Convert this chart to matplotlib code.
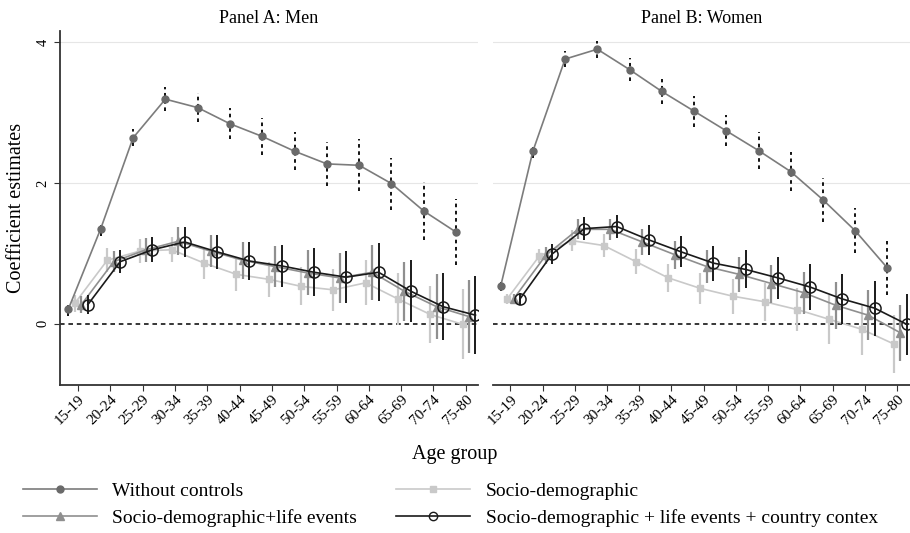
import numpy as np
import matplotlib
matplotlib.use("Agg")
import matplotlib.pyplot as plt
from matplotlib.lines import Line2D

plt.rcParams['font.family'] = ['Liberation Serif', 'DejaVu Serif']

age_groups = ['15-19', '20-24', '25-29', '30-34', '35-39', '40-44', '45-49',
              '50-54', '55-59', '60-64', '65-69', '70-74', '75-80']

# Panel A: Men
men_none = [0.21, 1.35, 2.64, 3.19, 3.07, 2.84, 2.66, 2.45, 2.27, 2.25, 1.99, 1.60, 1.30]
men_none_ci = [0.10, 0.10, 0.12, 0.17, 0.21, 0.22, 0.26, 0.27, 0.31, 0.37, 0.37, 0.41, 0.47]
men_socio = [0.29, 0.90, 1.03, 1.05, 0.86, 0.70, 0.63, 0.53, 0.48, 0.58, 0.35, 0.13, -0.01]
men_socio_ci = [0.12, 0.17, 0.17, 0.18, 0.22, 0.24, 0.25, 0.27, 0.30, 0.32, 0.37, 0.40, 0.50]
men_life = [0.27, 0.88, 1.05, 1.17, 1.03, 0.90, 0.81, 0.72, 0.65, 0.73, 0.46, 0.24, 0.10]
men_life_ci = [0.12, 0.15, 0.17, 0.20, 0.23, 0.26, 0.29, 0.32, 0.35, 0.39, 0.42, 0.46, 0.52]
men_ctry = [0.27, 0.88, 1.05, 1.16, 1.02, 0.89, 0.82, 0.73, 0.66, 0.73, 0.46, 0.24, 0.12]
men_ctry_ci = [0.13, 0.16, 0.18, 0.21, 0.24, 0.27, 0.30, 0.34, 0.37, 0.41, 0.44, 0.48, 0.55]

# Panel B: Women
wom_none = [0.53, 2.45, 3.76, 3.90, 3.61, 3.30, 3.02, 2.74, 2.46, 2.16, 1.76, 1.32, 0.79]
wom_none_ci = [0.06, 0.10, 0.11, 0.12, 0.16, 0.18, 0.22, 0.22, 0.26, 0.28, 0.31, 0.32, 0.38]
wom_socio = [0.35, 0.96, 1.18, 1.11, 0.88, 0.65, 0.50, 0.39, 0.31, 0.20, 0.06, -0.08, -0.29]
wom_socio_ci = [0.07, 0.10, 0.15, 0.16, 0.18, 0.20, 0.22, 0.25, 0.27, 0.30, 0.35, 0.36, 0.41]
wom_life = [0.35, 0.97, 1.34, 1.34, 1.16, 0.98, 0.81, 0.70, 0.57, 0.44, 0.26, 0.12, -0.13]
wom_life_ci = [0.07, 0.12, 0.14, 0.15, 0.19, 0.20, 0.23, 0.25, 0.27, 0.30, 0.33, 0.36, 0.40]
wom_ctry = [0.35, 0.99, 1.35, 1.38, 1.19, 1.02, 0.86, 0.77, 0.65, 0.52, 0.35, 0.22, -0.01]
wom_ctry_ci = [0.08, 0.14, 0.16, 0.17, 0.21, 0.22, 0.25, 0.27, 0.30, 0.33, 0.36, 0.39, 0.43]

labels = ['Without controls', 'Socio-demographic', 'Socio-demographic+life events',
          'Socio-demographic + life events + country contex']

c_none = '#6a6a6a'
c_socio = '#c9c9c9'
c_life = '#8f8f8f'
c_ctry = '#1a1a1a'


def draw_panel(ax, none, none_ci, socio, socio_ci, life, life_ci, ctry, ctry_ci):
    x = np.arange(len(age_groups))
    ax.axhline(0, color='black', lw=1.1, ls=(0, (3, 2.5)), zorder=1)
    for yv in [2, 4]:
        ax.axhline(yv, color='#e6e6e6', lw=0.8, zorder=0)

    # socio-demographic
    xs = x - 0.1
    ax.vlines(xs, np.array(socio) - socio_ci, np.array(socio) + socio_ci, color=c_socio, lw=1.6, zorder=2)
    ax.plot(xs, socio, color=c_socio, lw=1.2, marker='s', ms=5, zorder=3)
    # life events
    xl = x + 0.1
    ax.vlines(xl, np.array(life) - life_ci, np.array(life) + life_ci, color=c_life, lw=1.6, zorder=4)
    ax.plot(xl, life, color=c_life, lw=1.2, marker='^', ms=5.5, zorder=5)
    # country context
    xc = x + 0.3
    ax.vlines(xc, np.array(ctry) - ctry_ci, np.array(ctry) + ctry_ci, color=c_ctry, lw=1.4, zorder=6)
    ax.plot(xc, ctry, color=c_ctry, lw=1.2, marker='o', ms=8, mfc='none', mec=c_ctry, mew=1.1, zorder=7)
    # without controls
    xn = x - 0.3
    ax.vlines(xn, np.array(none) - none_ci, np.array(none) + none_ci, color='black', lw=1.3,
              linestyles=(0, (2, 2)), zorder=8)
    ax.plot(xn, none, color='#7c7c7c', lw=1.2, marker='o', ms=5, mfc=c_none, mec=c_none, zorder=9)

    ax.set_xticks(x)
    ax.set_xticklabels(age_groups, rotation=45, ha='right', rotation_mode='anchor', fontsize=11)
    ax.set_ylim(-0.87, 4.16)
    ax.set_yticks([0, 2, 4])
    for s in ['top', 'right']:
        ax.spines[s].set_visible(False)
    ax.spines['bottom'].set_color('#333333')
    ax.spines['bottom'].set_linewidth(1.3)
    ax.tick_params(axis='x', length=4, color='#333333', pad=2)


fig = plt.figure(figsize=(9.1, 5.33), dpi=100)
ax1 = fig.add_axes([0.066, 0.278, 0.459, 0.664])
ax2 = fig.add_axes([0.542, 0.278, 0.458, 0.664])

draw_panel(ax1, men_none, men_none_ci, men_socio, men_socio_ci, men_life, men_life_ci, men_ctry, men_ctry_ci)
draw_panel(ax2, wom_none, wom_none_ci, wom_socio, wom_socio_ci, wom_life, wom_life_ci, wom_ctry, wom_ctry_ci)

ax1.set_xlim(-0.56, 12.37)
ax2.set_xlim(-0.53, 12.4)

ax1.spines['left'].set_color('#333333')
ax1.spines['left'].set_linewidth(1.3)
ax1.set_yticklabels(['0', '2', '4'], rotation=90, va='center', fontsize=10.5)
ax1.tick_params(axis='y', length=4, color='#333333')
ax1.set_ylabel('Coefficient estimates', fontsize=14.5, labelpad=8)

ax2.spines['left'].set_visible(False)
ax2.tick_params(axis='y', left=False, labelleft=False)

ax1.set_title('Panel A: Men', fontsize=13, pad=6)
ax2.set_title('Panel B: Women', fontsize=13, pad=6)

fig.text(0.5, 0.148, 'Age group', ha='center', va='center', fontsize=14.5)

handles = [
    Line2D([], [], color='#7c7c7c', lw=1.2, marker='o', ms=5, mfc=c_none, mec=c_none),
    Line2D([], [], color=c_life, lw=1.2, marker='^', ms=5.5),
    Line2D([], [], color=c_socio, lw=1.2, marker='s', ms=5),
    Line2D([], [], color=c_ctry, lw=1.2, marker='o', ms=6, mfc='none', mec=c_ctry),
]
leg_labels = [labels[0], labels[2], labels[1], labels[3]]
fig.legend(handles, leg_labels, ncol=2, loc='center left', bbox_to_anchor=(0.006, 1 - 504.5 / 533),
           frameon=False, fontsize=14, handlelength=3.8, columnspacing=2.0,
           labelspacing=0.5, handletextpad=0.8)

fig.savefig('out.png', dpi=100)
